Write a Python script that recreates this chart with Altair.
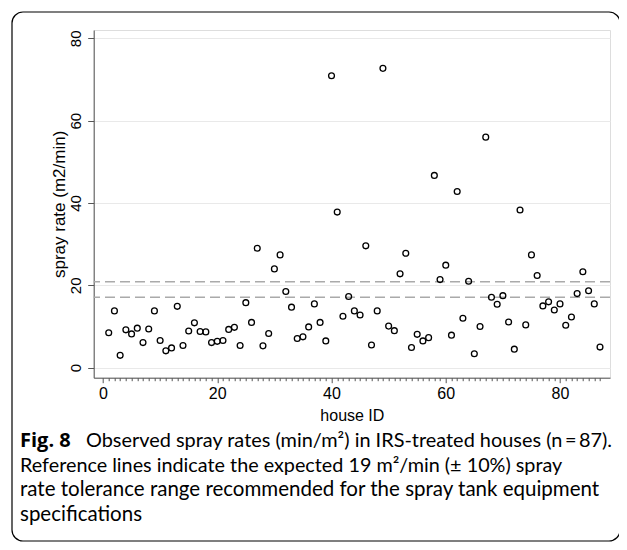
import altair as alt
import pandas as pd

# ---- data ----
house_id = list(range(1, 88))
spray_rate = [
    8.5, 13.8, 3.0, 9.2, 8.2, 9.6, 6.1, 9.4, 13.8, 6.6,
    4.1, 4.8, 14.9, 5.4, 8.9, 10.9, 8.8, 8.7, 6.1, 6.4,
    6.6, 9.3, 9.8, 5.4, 15.8, 11.0, 29.0, 5.3, 8.3, 24.0,
    27.4, 18.5, 14.7, 7.1, 7.5, 9.9, 15.5, 11.0, 6.5, 70.9,
    37.8, 12.5, 17.3, 13.8, 12.8, 29.6, 5.5, 13.8, 72.7, 10.1,
    9.0, 22.8, 27.8, 4.9, 8.1, 6.5, 7.3, 46.7, 21.4, 24.9,
    7.9, 42.8, 12.0, 21.0, 3.4, 10.0, 56.0, 17.1, 15.4, 17.5,
    11.1, 4.5, 38.3, 10.4, 27.4, 22.4, 15.0, 16.0, 14.0, 15.5,
    10.3, 12.3, 18.0, 23.3, 18.7, 15.5, 5.0,
]
reference_lines = [17.1, 20.9]
y_ticks = [0, 20, 40, 60, 80]
x_tick_values = list(range(0, 88))

caption_bold = "Fig. 8"
caption_lines = [
    "Observed spray rates (min/m²) in IRS-treated houses (n\u2009=\u200987).",
    "Reference lines indicate the expected 19 m²/min (± 10%) spray",
    "rate tolerance range recommended for the spray tank equipment",
    "specifications",
]

df = pd.DataFrame({"house": house_id, "rate": spray_rate})
ref_df = pd.DataFrame({"v": reference_lines})

AX_FONT = "Liberation Sans"
CAP_FONT = "Lato"
CAP_SIZES = [19.9, 19.8, 20.5, 20.5]

x_scale = alt.Scale(domain=[-1.63, 88.75], nice=False, zero=False)
y_scale = alt.Scale(domain=[-2.43, 82.02], nice=False, zero=False)

x_axis = alt.Axis(
    values=x_tick_values,
    labelExpr="datum.value % 20 === 0 ? datum.label : ''",
    tickSize={"condition": {"test": "datum.value % 20 === 0", "value": 5}, "value": 3},
    grid=False,
    domainColor="#555555",
    tickColor="#555555",
    labelFont=AX_FONT,
    labelFontSize=16,
    labelColor="black",
    labelPadding=3,
    labelOverlap=False,
    labelFlush=False,
    title="house ID",
    titleFont=AX_FONT,
    titleFontSize=16,
    titleFontWeight="normal",
    titleColor="black",
    titlePadding=6,
)

y_axis = alt.Axis(
    values=y_ticks,
    labelAngle=270,
    labelAlign="center",
    labelBaseline="middle",
    labelPadding=12.5,
    tickSize=6,
    grid=True,
    gridColor="#e9e9e9",
    gridWidth=1.2,
    domainColor="#555555",
    tickColor="#555555",
    labelFont=AX_FONT,
    labelFontSize=15,
    labelColor="black",
    title="spray rate (m2/min)",
    titleFont=AX_FONT,
    titleFontSize=17,
    titleFontWeight="normal",
    titleColor="black",
    titlePadding=0,
)

points = alt.Chart(df).mark_point(
    shape="circle", filled=False, size=34, strokeWidth=1.3, color="black", opacity=1
).encode(
    x=alt.X("house:Q", scale=x_scale, axis=x_axis),
    y=alt.Y("rate:Q", scale=y_scale, axis=y_axis),
)

rules = alt.Chart(ref_df).mark_rule(
    strokeDash=[10, 5], color="#aaaaaa", strokeWidth=1.5
).encode(y=alt.Y("v:Q", scale=y_scale))

# plot origin on the page is at (93.7, 30)
OX, OY = 93.7, 30.0


def text_layer(t, px, py, size, weight="normal", font=CAP_FONT):
    return alt.Chart(pd.DataFrame({"t": [t]})).mark_text(
        font=font, fontSize=size, fontWeight=weight, align="left",
        baseline="middle", color="black",
    ).encode(text="t:N", x=alt.value(px - OX), y=alt.value(py - OY))


caption_y = [441, 466, 490, 515]
layers = [
    text_layer(caption_bold, 20, caption_y[0], 20, "bold", "Open Sans"),
    text_layer(caption_lines[0], 86, caption_y[0], CAP_SIZES[0]),
]
for line, cy, sz in zip(caption_lines[1:], caption_y[1:], CAP_SIZES[1:]):
    layers.append(text_layer(line, 20, cy, sz))

frame = alt.Chart(pd.DataFrame({"f": [0]})).mark_rect(
    fillOpacity=0, stroke="black", strokeWidth=1.2, cornerRadius=11
).encode(
    x=alt.value(12 - OX), x2=alt.value(620 - OX),
    y=alt.value(12 - OY), y2=alt.value(541 - OY),
)

chart = alt.layer(rules, points, frame, *layers).properties(
    width=516.3,
    height=347.7,
    autosize=alt.AutoSizeParams(type="none"),
    padding={"left": 85.7, "top": 22, "right": 9, "bottom": 164.3},
).configure_view(strokeWidth=0).configure(background="white")

chart.save("out.html", embed_options={"renderer": "svg", "actions": False})
